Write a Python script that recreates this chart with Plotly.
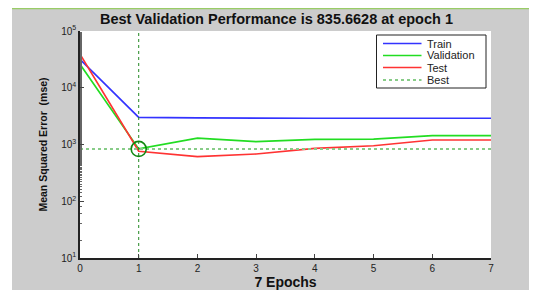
import plotly.graph_objects as go

epochs = [0, 1, 2, 3, 4, 5, 6, 7]
train = [31600, 3000, 2950, 2900, 2900, 2900, 2900, 2900]
validation = [26000, 835.6628, 1290, 1120, 1230, 1240, 1430, 1430]
test = [39000, 760, 610, 680, 857, 950, 1200, 1200]
best_epoch = 1
best_value = 835.6628
ytick_vals = [10, 100, 1000, 10000, 100000]
ytick_text = ["10<sup>1</sup>", "10<sup>2</sup>", "10<sup>3</sup>", "10<sup>4</sup>", "10<sup>5</sup>"]
title_text = "Best Validation Performance is 835.6628 at epoch 1"
legend_names = ["Train", "Validation", "Test", "Best"]

# the page body has an 8px margin: work in page pixels, convert to figure pixels
OX, OY = 8, 8
PAGE_W, PAGE_H = 537, 290
W, H = PAGE_W - OX, PAGE_H - OY
PL, PR, PT, PB = 80, 491, 31, 258  # plot area in page pixels
L, T = PL - OX, PT - OY
R, B = W - (PR - OX), H - (PB - OY)
pw = W - L - R
ph = H - T - B

C_TRAIN = "#3333ff"
C_VAL = "#22dd22"
C_TEST = "#ff3333"
C_BEST = "#88cc88"


def px(x):
    return (x - PL) / pw


def py(y):
    return (PB - y) / ph


fig = go.Figure()
fig.add_trace(go.Scatter(x=epochs, y=train, mode="lines", name="Train",
                         line=dict(color=C_TRAIN, width=1.7)))
fig.add_trace(go.Scatter(x=epochs, y=validation, mode="lines", name="Validation",
                         line=dict(color=C_VAL, width=1.7)))
fig.add_trace(go.Scatter(x=epochs, y=test, mode="lines", name="Test",
                         line=dict(color=C_TEST, width=1.7)))
fig.add_trace(go.Scatter(x=[epochs[0], epochs[-1]], y=[best_value, best_value], mode="lines",
                         name="Best", line=dict(color=C_BEST, width=2, dash="dot")))
fig.add_trace(go.Scatter(x=[best_epoch, best_epoch], y=[10, 100000], mode="lines",
                         name="best epoch", line=dict(color="#228822", width=1, dash="dot")))
fig.add_trace(go.Scatter(x=[best_epoch], y=[best_value], mode="markers", name="best point",
                         marker=dict(symbol="circle-open", size=15, color="#118811",
                                     line=dict(width=1.6, color="#118811"))))

# page strip (white) and green line at the top edge, as in the screenshot
fig.add_shape(type="rect", xref="paper", yref="paper", layer="below",
              x0=px(0), x1=px(12), y0=py(PAGE_H + 2), y1=py(0),
              fillcolor="white", line=dict(width=0))
fig.add_shape(type="line", xref="paper", yref="paper", layer="below",
              x0=px(12), x1=px(PAGE_W + 2), y0=py(8.6), y1=py(8.6),
              line=dict(color="#99cc66", width=1.5))

# legend box (compact, MATLAB style)
fig.add_shape(type="rect", xref="paper", yref="paper",
              x0=px(376.5), x1=px(486), y0=py(88), y1=py(35),
              fillcolor="white", line=dict(color="#222222", width=1))
leg_styles = [(C_TRAIN, None, 1.7), (C_VAL, None, 1.7), (C_TEST, None, 1.7), (C_BEST, "dot", 2)]
leg_y = [43.5, 55.5, 67.5, 80]
for name, (col, dash, w), yy in zip(legend_names, leg_styles, leg_y):
    fig.add_shape(type="line", xref="paper", yref="paper",
                  x0=px(383), x1=px(421.5), y0=py(yy), y1=py(yy),
                  line=dict(color=col, width=w, dash=dash))
    fig.add_annotation(xref="paper", yref="paper", x=px(424.5), y=py(yy),
                       xanchor="left", yanchor="middle", showarrow=False,
                       text=name, font=dict(size=11, color="#222222"))

fig.update_layout(
    width=W, height=H,
    margin=dict(l=L, r=R, t=T, b=B, pad=0),
    paper_bgcolor="#cccccc", plot_bgcolor="white",
    font=dict(family="Liberation Sans, Arial", size=10, color="#222222"),
    title=dict(text="<b>" + title_text + "</b>", x=(276.5 - OX) / W, xanchor="center",
               y=1 - (19 - OY) / H, yanchor="middle", font=dict(size=14.5, color="#111111")),
    showlegend=False,
)
fig.update_xaxes(range=[0, 7], dtick=1, showgrid=False, zeroline=False, automargin=False,
                 showline=True, linecolor="#222222", linewidth=1.5,
                 ticks="inside", ticklen=4, tickcolor="#444444",
                 tickfont=dict(size=10),
                 title=dict(text="<b>7 Epochs</b>", font=dict(size=14, color="#111111"), standoff=0))
fig.update_yaxes(type="log", range=[1, 5], showgrid=False, zeroline=False, automargin=False,
                 showline=True, linecolor="#222222", linewidth=1.5,
                 tickvals=ytick_vals, ticktext=ytick_text,
                 ticks="inside", ticklen=4, tickcolor="#444444",
                 minor=dict(ticks="inside", ticklen=2, tickcolor="#666666"),
                 tickfont=dict(size=10),
                 title=dict(text="<b>Mean Squared Error  (mse)</b>",
                            font=dict(size=10.5, color="#111111"), standoff=12))

fig.write_html("out.html")
